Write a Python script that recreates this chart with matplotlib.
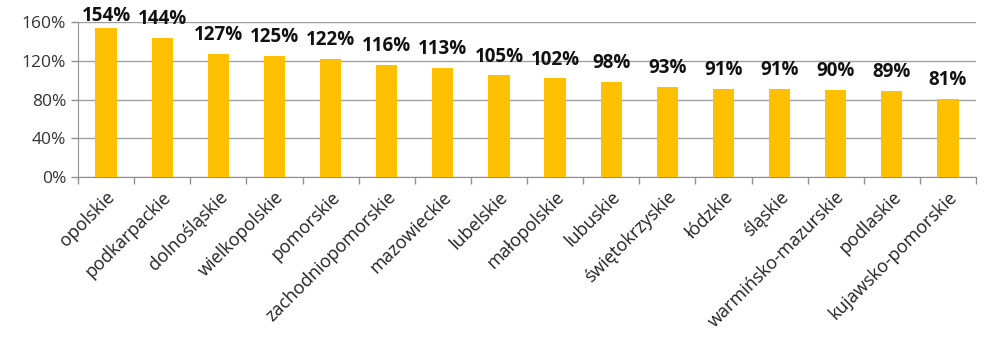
import numpy as np
import matplotlib.pyplot as plt
from matplotlib.ticker import FixedLocator

regions = ['opolskie', 'podkarpackie', 'dolnośląskie', 'wielkopolskie', 'pomorskie',
           'zachodniopomorskie', 'mazowieckie', 'lubelskie', 'małopolskie', 'lubuskie',
           'świętokrzyskie', 'łódzkie', 'śląskie', 'warmińsko-mazurskie', 'podlaskie',
           'kujawsko-pomorskie']
values = [154, 144, 127, 125, 122, 116, 113, 105, 102, 98, 93, 91, 91, 90, 89, 81]
yticks = [0, 40, 80, 120, 160]

plt.rcParams['font.family'] = ['Open Sans', 'DejaVu Sans']

fig = plt.figure(figsize=(10, 3.51), dpi=100)
ax = fig.add_axes([0.078, 0.496, 0.898, 0.441])

x = np.arange(len(regions))
ax.bar(x, values, width=0.38, color='#FFC000', zorder=3)
# labels sit above the bars, but stay inside the chart area (like excel does)
for xi, v in zip(x, values):
    ax.text(xi, min(v + 9, 156), '%d%%' % v, ha='center', va='bottom',
            fontsize=13.5, fontweight='bold', color='#111111', zorder=4)

ax.set_xlim(-0.5, len(regions) - 0.5)
ax.set_ylim(0, 160)
ax.set_yticks(yticks)
ax.set_yticklabels(['%d%%' % t for t in yticks], fontsize=12.5, color='#333333')
ax.yaxis.grid(True, color='#a0a0a0', linewidth=1, zorder=0)

ax.set_xticks(x)
ax.set_xticklabels(regions, rotation=45, ha='right', rotation_mode='anchor',
                   fontsize=13, color='#222222')
ax.tick_params(axis='x', length=0, pad=8)
ax.xaxis.set_minor_locator(FixedLocator(np.arange(-0.5, len(regions), 1)))
ax.tick_params(axis='x', which='minor', length=5, color='#909090', width=1)
ax.tick_params(axis='y', length=5, color='#909090', width=1)

for s in ['top', 'right']:
    ax.spines[s].set_visible(False)
for s in ['left', 'bottom']:
    ax.spines[s].set_color('#909090')

fig.savefig('out.png', dpi=100, facecolor='white')
